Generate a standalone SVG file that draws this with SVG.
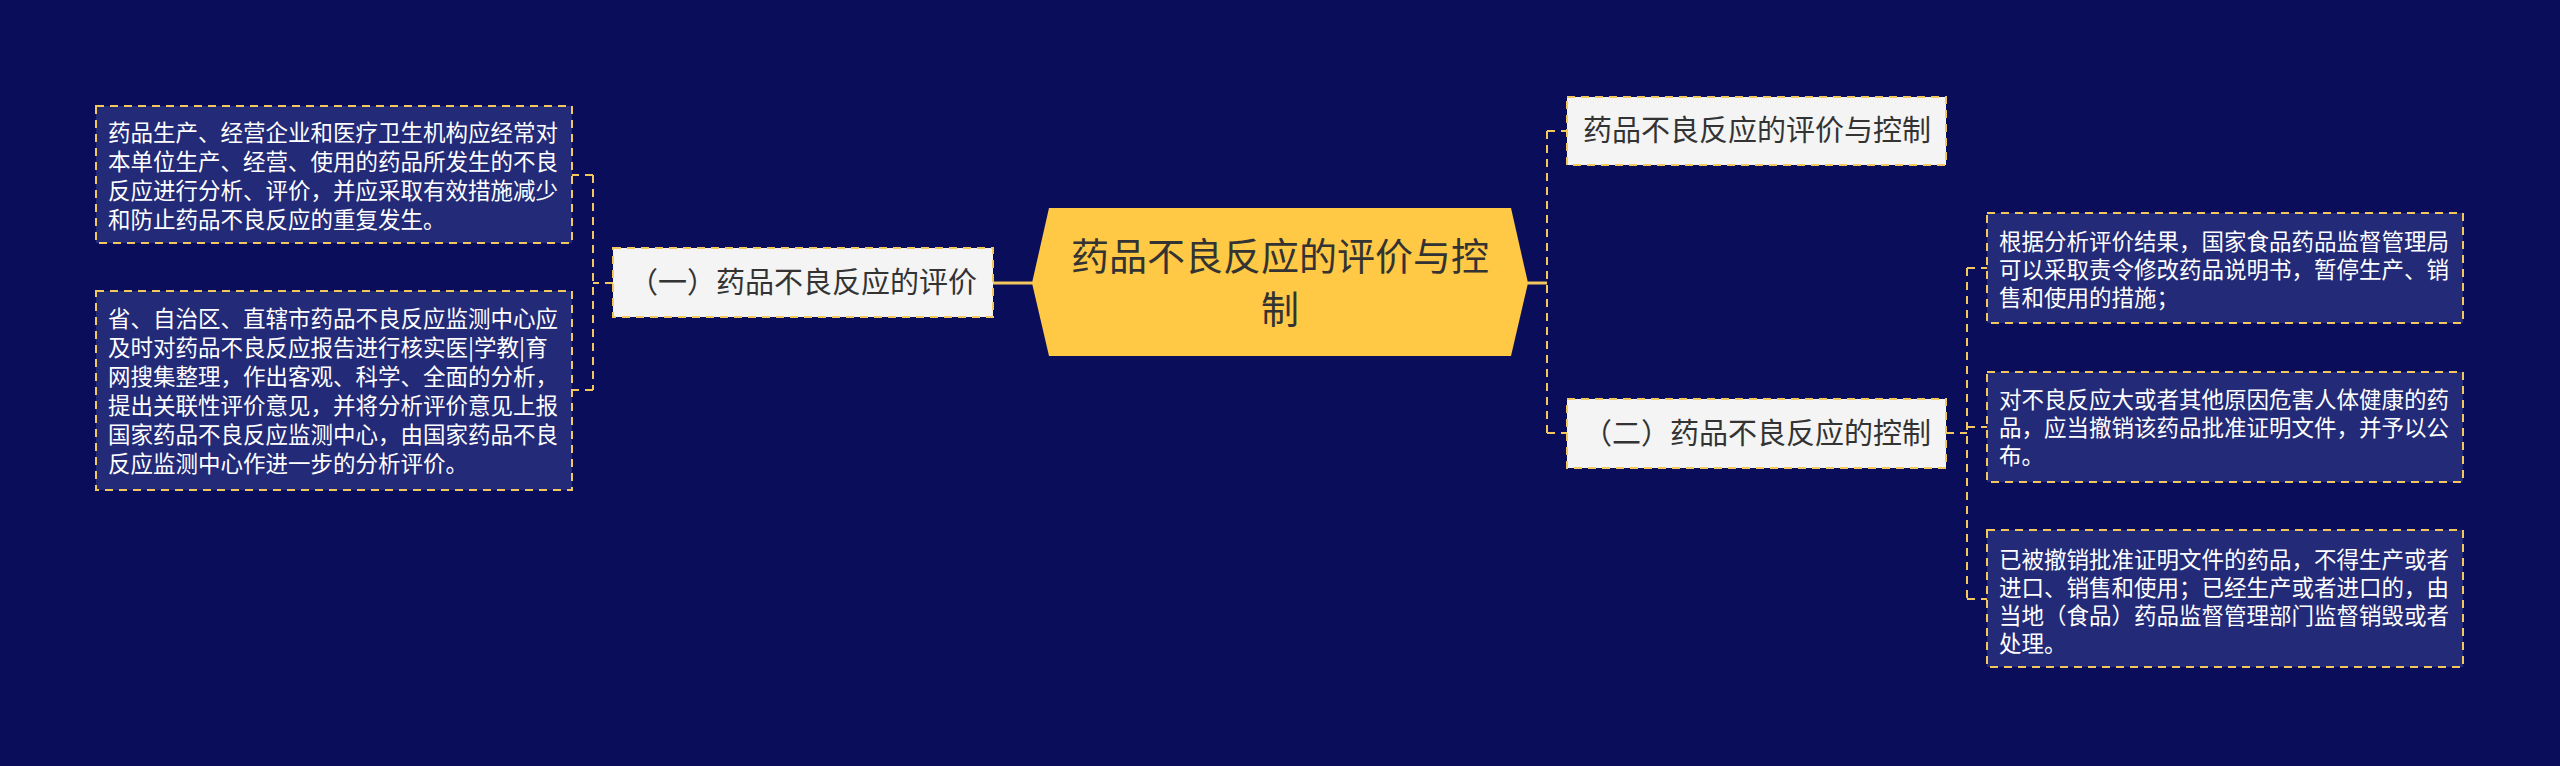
<svg xmlns="http://www.w3.org/2000/svg" width="2560" height="766" viewBox="0 0 2560 766">
<style>
.bg{fill:#0a0e5a}
.box{fill:#232a78;stroke:#f2c75c;stroke-width:2;stroke-dasharray:8 6}
.node{fill:#f4f4f4;stroke:#f2c75c;stroke-width:2;stroke-dasharray:8 6}
.hex{fill:#ffc845}
.conn{fill:none;stroke:#f2c75c;stroke-width:2;stroke-dasharray:8 6}
.solid{fill:none;stroke:#f2c75c;stroke-width:3}
.bt{font-family:"Noto Sans CJK SC","Noto Sans",sans-serif;font-size:22.5px;fill:#ffffff}
.nt{font-family:"Noto Sans CJK SC","Noto Sans",sans-serif;font-size:29px;fill:#333333;text-anchor:middle}
.ct{font-family:"Noto Sans CJK SC","Noto Sans",sans-serif;font-size:38px;fill:#333333;text-anchor:middle}
</style>
<rect class="bg" x="0" y="0" width="2560" height="766"/>
<g id="connectors">
<path class="solid" d="M993,283 H1033"/>
<path class="solid" d="M1527,283 H1547"/>
<path class="conn" d="M613,283 H593 M593,175 V390 M593,175 H572 M593,390 H572"/>
<path class="conn" d="M1547,131 V433 M1547,131 H1567 M1547,433 H1567"/>
<path class="conn" d="M1946,433 H1967 M1967,268 V599 M1967,268 H1987 M1967,427 H1987 M1967,599 H1987"/>
</g>
<g id="center">
<polygon class="hex" points="1049,208 1511,208 1528,283 1511,356 1049,356 1032,283"/>
<text class="ct" x="1280" y="270">药品不良反应的评价与控</text>
<text class="ct" x="1280" y="323">制</text>
</g>
<g id="n-left">
<rect class="node" x="613" y="248" width="380" height="69"/>
<text class="nt" x="803" y="293">（一）药品不良反应的评价</text>
</g>
<g id="n-left-1">
<rect class="box" x="96" y="106" width="476" height="137"/>
<text class="bt" x="108" y="141">药品生产、经营企业和医疗卫生机构应经常对</text>
<text class="bt" x="108" y="170">本单位生产、经营、使用的药品所发生的不良</text>
<text class="bt" x="108" y="199">反应进行分析、评价，并应采取有效措施减少</text>
<text class="bt" x="108" y="228">和防止药品不良反应的重复发生。</text>
</g>
<g id="n-left-2">
<rect class="box" x="96" y="291" width="476" height="199"/>
<text class="bt" x="108" y="327">省、自治区、直辖市药品不良反应监测中心应</text>
<text class="bt" x="108" y="356">及时对药品不良反应报告进行核实医|学教|育</text>
<text class="bt" x="108" y="385">网搜集整理，作出客观、科学、全面的分析，</text>
<text class="bt" x="108" y="414">提出关联性评价意见，并将分析评价意见上报</text>
<text class="bt" x="108" y="443">国家药品不良反应监测中心，由国家药品不良</text>
<text class="bt" x="108" y="472">反应监测中心作进一步的分析评价。</text>
</g>
<g id="n-right-1">
<rect class="node" x="1567" y="97" width="379" height="68"/>
<text class="nt" x="1757" y="141">药品不良反应的评价与控制</text>
</g>
<g id="n-right-2">
<rect class="node" x="1567" y="399" width="379" height="69"/>
<text class="nt" x="1757" y="444">（二）药品不良反应的控制</text>
</g>
<g id="n-right-2-1">
<rect class="box" x="1987" y="213" width="476" height="110"/>
<text class="bt" x="1999" y="250">根据分析评价结果，国家食品药品监督管理局</text>
<text class="bt" x="1999" y="278">可以采取责令修改药品说明书，暂停生产、销</text>
<text class="bt" x="1999" y="306">售和使用的措施；</text>
</g>
<g id="n-right-2-2">
<rect class="box" x="1987" y="372" width="476" height="110"/>
<text class="bt" x="1999" y="408">对不良反应大或者其他原因危害人体健康的药</text>
<text class="bt" x="1999" y="436">品，应当撤销该药品批准证明文件，并予以公</text>
<text class="bt" x="1999" y="464">布。</text>
</g>
<g id="n-right-2-3">
<rect class="box" x="1987" y="530" width="476" height="137"/>
<text class="bt" x="1999" y="568">已被撤销批准证明文件的药品，不得生产或者</text>
<text class="bt" x="1999" y="596">进口、销售和使用；已经生产或者进口的，由</text>
<text class="bt" x="1999" y="624">当地（食品）药品监督管理部门监督销毁或者</text>
<text class="bt" x="1999" y="652">处理。</text>
</g>
</svg>
